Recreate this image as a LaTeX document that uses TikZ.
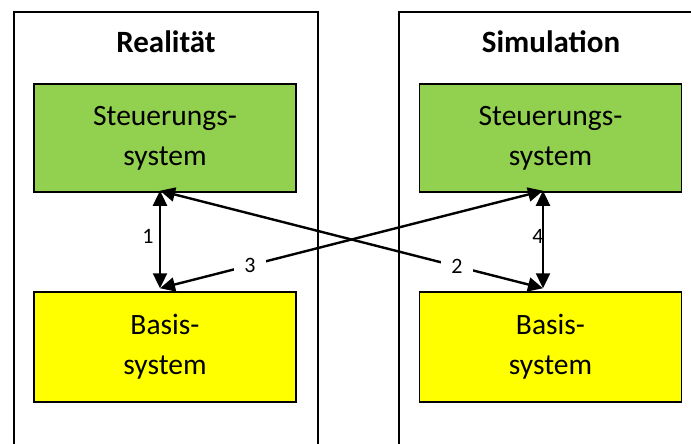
\documentclass[tikz,border=0pt]{standalone}
\usepackage{fontspec}
\setmainfont{Carlito}
\usetikzlibrary{arrows.meta}
\definecolor{boxgreen}{HTML}{92D050}
\definecolor{boxyellow}{HTML}{FFFF00}
\begin{document}
\begin{tikzpicture}[x=1pt,y=-1pt,
  box/.style={draw=black,line width=1.5pt,minimum width=262pt,minimum height=108pt,
    align=center,inner sep=0pt,font=\fontsize{29.5}{40}\selectfont},
  steu/.style={box,fill=boxgreen},
  basis/.style={box,fill=boxyellow,minimum height=110pt},
  title/.style={font=\fontsize{31}{34}\selectfont\bfseries,anchor=base},
  panel/.style={draw=black,line width=1.5pt},
  conn/.style={line width=2.4pt,{Triangle[length=15pt,width=14pt]}-{Triangle[length=15pt,width=14pt]}},
  lbl/.style={font=\fontsize{22}{24}\selectfont,fill=white,inner sep=0pt,minimum width=32pt,minimum height=22pt},
  lblplain/.style={font=\fontsize{22}{24}\selectfont,inner sep=0pt}]
\useasboundingbox (0,0) rectangle (691,444);
\draw[panel] (14,450) -- (14,12) -- (318,12) -- (318,450);
\draw[panel] (399,450) -- (399,12) -- (695,12);
\node[title] (tr) at (166,53) {Realität};
\node[title] (ts) at (551,53) {Simulation};
\node[steu] (sl) at (165,138) {Steuerungs-\\system};
\node[steu] (sr) at (550.5,138) {Steuerungs-\\system};
\node[basis] (bl) at (165,347) {Basis-\\system};
\node[basis] (br) at (550.5,347) {Basis-\\system};
\coordinate (slp) at ([xshift=-5pt,yshift=2pt]sl.south);
\coordinate (srp) at ([xshift=-7.5pt,yshift=2pt]sr.south);
\coordinate (blp) at ([xshift=-5pt,yshift=3pt]bl.north);
\coordinate (brp) at ([xshift=-7.5pt,yshift=3pt]br.north);
\draw[conn] (slp) -- (blp);
\draw[conn] (srp) -- (brp);
\draw[conn] (blp) -- node[lbl,pos=0.235] (l3) {3} (srp);
\draw[conn] (slp) -- node[lbl,pos=0.775] (l2) {2} (brp);
\node[lblplain] (l1) at (148,236) {1};
\node[lblplain] (l4) at (538,236) {4};
\end{tikzpicture}
\end{document}
